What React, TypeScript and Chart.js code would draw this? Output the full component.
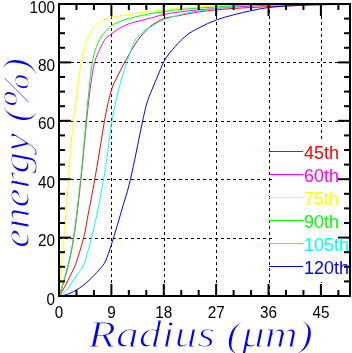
import React, { useEffect, useRef } from "react";
import { Chart, registerables } from "chart.js";

Chart.register(...registerables);

// Radius in micrometres
const radius = [0, 0.5, 1, 1.5, 2, 2.5, 3, 3.5, 4, 4.5, 5, 5.5, 6, 7, 8, 9, 10, 11, 12, 13, 14, 15, 16, 17, 18, 20, 22, 24, 27, 30, 33, 36, 40, 45, 50];

// Contained energy (%) for each series
const e45 = [0, 1.5, 3.3, 5.2, 7.2, 9.2, 11.6, 14.8, 18.2, 22.3, 27.8, 33, 38.3, 50, 62, 70.5, 75, 79, 82.6, 86, 88.8, 91, 92.8, 94, 95, 95.8, 96.6, 97.3, 98, 98.5, 98.8, 99.1, 99.4, 99.7, 100];
const e60 = [0, 2.8, 6.2, 9.7, 14, 19.5, 26.5, 35, 44.5, 55, 65, 73, 79, 84.5, 88.1, 89.7, 91.2, 92.3, 93.2, 93.8, 94.3, 94.8, 95.3, 95.9, 96.4, 97.1, 97.6, 98, 98.5, 99, 99.3, 99.6, 99.8, 100, 100];
const e75 = [0, 11, 23, 36, 50, 60, 67.8, 76, 82, 86, 88.3, 90.5, 92, 93.8, 94.8, 95.5, 95.8, 96.1, 96.4, 96.7, 97, 97.2, 97.5, 97.7, 98, 98.4, 98.7, 99, 99.3, 99.6, 99.8, 100, 100, 100, 100];
const e90 = [0, 3, 6.5, 10, 14.5, 20, 27.5, 36, 45.5, 56.5, 67.5, 77, 82.5, 87.8, 90.6, 92.6, 93.6, 94.4, 95, 95.5, 96, 96.4, 96.8, 97.1, 97.4, 97.9, 98.3, 98.6, 99, 99.4, 99.6, 99.8, 100, 100, 100];
const e105 = [0, 0.6, 1.5, 2.4, 3.9, 5.5, 6.9, 8.4, 9.7, 12, 15.5, 19.2, 23.3, 32.8, 44, 58.8, 68.6, 76, 82, 87.3, 89.7, 91.3, 92.4, 93.6, 94.6, 95.9, 96.9, 97.6, 98.5, 99.2, 99.6, 100, 100, 100, 100];
const e120 = [0, 0.1, 0.3, 0.6, 1.0, 1.5, 2.1, 2.7, 3.4, 4.2, 5.1, 6, 7, 9.2, 12, 17.6, 24.1, 30.9, 37.7, 46.6, 56.4, 65.4, 70.8, 75.5, 80.2, 85.5, 89.4, 91.8, 94.5, 96.3, 97.7, 98.8, 99.4, 100, 100];

const seriesLabels = ["45th", "60th", "75th", "90th", "105th", "120th"];
const seriesValues = [e45, e60, e75, e90, e105, e120];
const seriesColors = ["#ff0000", "#ff00ff", "#ffff00", "#00ff00", "#00ffff", "#0000ff"];

const xMajorTicks = [0, 9, 18, 27, 36, 45];
const xMinorTicks = [3, 6, 12, 15, 21, 24, 30, 33, 39, 42, 48];
const yMajorTicks = [0, 20, 40, 60, 80, 100];
const yMinorTicks = [5, 10, 15, 25, 30, 35, 45, 50, 55, 65, 70, 75, 85, 90, 95];

const xTitle = "Radius (\u03bcm)";
const yTitle = "energy (%)";

function scaledText(ctx: CanvasRenderingContext2D, text: string, x: number, y: number, sx: number, align: CanvasTextAlign, erode = 0) {
  ctx.save();
  ctx.translate(x, y);
  ctx.scale(sx, 1);
  ctx.textAlign = align;
  ctx.textBaseline = "alphabetic";
  ctx.fillText(text, 0, 0);
  if (erode > 0) {
    ctx.strokeStyle = "#fff";
    ctx.lineWidth = erode;
    ctx.lineJoin = "round";
    ctx.strokeText(text, 0, 0);
  }
  ctx.restore();
}

const rootStyle = {
  id: "rootStyle",
  beforeDatasetsDraw(chart: any) {
    const { ctx, chartArea: a, scales } = chart;
    const x = scales.x, y = scales.y;
    ctx.save();
    ctx.strokeStyle = "#000";
    ctx.lineWidth = 1;
    ctx.setLineDash([3, 3]);
    for (const v of xMajorTicks) {
      if (v <= 0) continue;
      const px = Math.round(x.getPixelForValue(v)) + 0.5;
      ctx.beginPath();
      ctx.moveTo(px, a.top);
      ctx.lineTo(px, a.bottom);
      ctx.stroke();
    }
    for (const v of yMajorTicks) {
      if (v <= 0 || v >= 100) continue;
      const py = Math.round(y.getPixelForValue(v)) + 0.5;
      ctx.beginPath();
      ctx.moveTo(a.left, py);
      ctx.lineTo(a.right, py);
      ctx.stroke();
    }
    ctx.setLineDash([]);
    // legend box (white fill)
    ctx.fillStyle = "#fff";
    ctx.fillRect(274, 141, a.right - 274, 141);
    ctx.restore();
  },
  afterDraw(chart: any) {
    const { ctx, chartArea: a, scales } = chart;
    const x = scales.x, y = scales.y;
    ctx.save();
    // frame
    ctx.strokeStyle = "#000";
    ctx.lineWidth = 2;
    ctx.strokeRect(a.left, a.top, a.right - a.left, a.bottom - a.top);
    // ticks
    const tick = (px: number, py: number, dx: number, dy: number) => {
      ctx.beginPath();
      ctx.moveTo(px, py);
      ctx.lineTo(px + dx, py + dy);
      ctx.stroke();
    };
    for (const v of xMajorTicks) {
      const px = x.getPixelForValue(v);
      tick(px, a.bottom, 0, -12);
      tick(px, a.top, 0, 12);
    }
    for (const v of xMinorTicks) {
      const px = x.getPixelForValue(v);
      tick(px, a.bottom, 0, -6);
      tick(px, a.top, 0, 6);
    }
    for (const v of yMajorTicks) {
      const py = y.getPixelForValue(v);
      tick(a.left, py, 12, 0);
      tick(a.right, py, -12, 0);
    }
    for (const v of yMinorTicks) {
      const py = y.getPixelForValue(v);
      tick(a.left, py, 6, 0);
      tick(a.right, py, -6, 0);
    }
    // tick labels
    ctx.fillStyle = "#000";
    ctx.font = "17px 'Liberation Sans', Arial, sans-serif";
    for (const v of xMajorTicks) {
      scaledText(ctx, String(v), x.getPixelForValue(v), a.bottom + 22, 0.9, "center");
    }
    for (const v of yMajorTicks) {
      scaledText(ctx, String(v), a.left - 4, y.getPixelForValue(v) + 8.5, 0.9, "right");
    }
    // axis titles
    ctx.fillStyle = "#0000ff";
    ctx.font = "italic 38px 'Liberation Serif', 'Times New Roman', serif";
    {
      const w = ctx.measureText(xTitle).width;
      scaledText(ctx, xTitle, 88, 346.5, 225 / w, "left", 1.1);
    }
    {
      const w = ctx.measureText(yTitle).width;
      ctx.save();
      ctx.translate(28.5, 248);
      ctx.rotate(-Math.PI / 2);
      scaledText(ctx, yTitle, 0, 0, 190 / w, "left", 1.1);
      ctx.restore();
    }
    // legend
    ctx.font = "18px 'Liberation Sans', Arial, sans-serif";
    ctx.lineWidth = 1;
    chart.data.datasets.forEach((ds: any, i: number) => {
      const ly = Math.round(150.7 + 23.1 * i) + 0.5;
      ctx.strokeStyle = ds.borderColor;
      ctx.beginPath();
      ctx.moveTo(269, ly);
      ctx.lineTo(303, ly);
      ctx.stroke();
      ctx.fillStyle = ds.borderColor;
      ctx.textAlign = "left";
      ctx.textBaseline = "alphabetic";
      ctx.fillText(ds.label, 304, ly + 7.5);
    });
    ctx.restore();
  },
};

export default function App() {
  const ref = useRef<HTMLCanvasElement | null>(null);
  useEffect(() => {
    if (!ref.current) return;
    const chart = new Chart(ref.current, {
      type: "line",
      data: {
        datasets: seriesValues.map((vals, i) => ({
          label: seriesLabels[i],
          data: radius.map((r, k) => ({ x: r, y: vals[k] })),
          borderColor: seriesColors[i],
          backgroundColor: seriesColors[i],
          borderWidth: 1,
          pointRadius: 0,
          fill: false,
          cubicInterpolationMode: "monotone" as const,
          order: -i,
        })),
      },
      options: {
        responsive: false,
        animation: false,
        layout: { padding: { left: 59, top: 4, right: 2, bottom: 57 } },
        plugins: { legend: { display: false }, tooltip: { enabled: false } },
        scales: {
          x: { type: "linear", min: 0, max: 50, display: false },
          y: { type: "linear", min: 0, max: 100, display: false },
        },
      },
      plugins: [rootStyle],
    });
    return () => chart.destroy();
  }, []);
  return (
    <div style={{ position: "absolute", left: 0, top: 0, width: 352, height: 353, background: "#fff" }}>
      <canvas ref={ref} width={352} height={353} style={{ display: "block" }} />
    </div>
  );
}
